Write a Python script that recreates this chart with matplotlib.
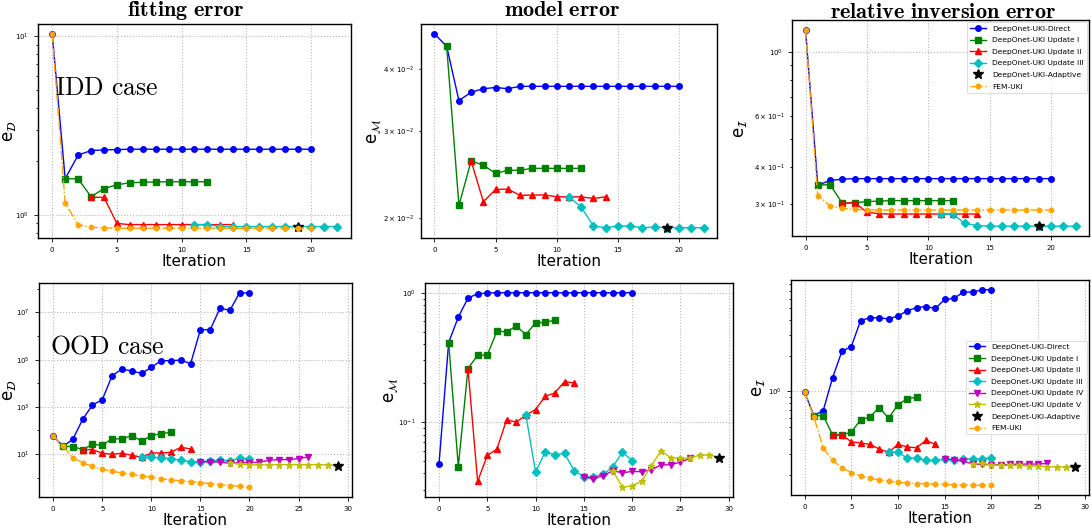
import numpy as np
import matplotlib
matplotlib.use("Agg")
import matplotlib.pyplot as plt
from matplotlib.ticker import FixedLocator, NullFormatter

# ---------------- data ----------------
LABELS = {
    "direct": "DeepOnet-UKI-Direct",
    "upd1": "DeepOnet-UKI Update I",
    "upd2": "DeepOnet-UKI Update II",
    "upd3": "DeepOnet-UKI Update III",
    "upd4": "DeepOnet-UKI Update IV",
    "upd5": "DeepOnet-UKI Update V",
    "adaptive": "DeepOnet-UKI-Adaptive",
    "fem": "FEM-UKI",
}

# first iteration index of each series
START = {"direct": 0, "upd1": 1, "upd2": 3, "fem": 0}
START_IDD = {"upd3": 11}
START_OOD = {"upd3": 9, "upd4": 15, "upd5": 18}

# IDD case: fitting error
idd_fit_direct = [10.35, 1.60, 2.17, 2.30, 2.32, 2.33] + [2.34] * 15
idd_fit_upd1 = [1.60, 1.60, 1.27, 1.41, 1.48, 1.52, 1.53, 1.535, 1.54, 1.54, 1.54, 1.54]
idd_fit_upd2 = [1.26, 1.26, 0.90] + [0.887] * 9
idd_fit_upd3 = [0.887, 0.887] + [0.865] * 10
idd_fit_adaptive = (19, 0.865)
idd_fit_fem = [10.35, 1.17, 0.887, 0.857, 0.85] + [0.846] * 16

# IDD case: model error
idd_mod_direct = [0.0471, 0.0444, 0.03455, 0.0359, 0.0365, 0.0367, 0.0365] + [0.0369] * 14
idd_mod_upd1 = [0.0444, 0.02124, 0.0261, 0.0256, 0.02463, 0.0250, 0.0250] + [0.02522] * 5
idd_mod_upd2 = [0.0261, 0.0216, 0.02287, 0.0229, 0.02225, 0.02228, 0.0223,
                0.0221, 0.0221, 0.0221, 0.02193, 0.0221]
idd_mod_upd3 = [0.0221, 0.02106, 0.0193, 0.01915, 0.0193, 0.0193, 0.01915,
                0.0192, 0.01915, 0.01915, 0.01915, 0.01915]
idd_mod_adaptive = (19, 0.0191)

# IDD case: relative inversion error
idd_inv_direct = [1.189, 0.3475, 0.3607, 0.3647] + [0.366] * 17
idd_inv_upd1 = [0.3475, 0.3494, 0.3010, 0.3025, 0.305, 0.3065] + [0.3075] * 6
idd_inv_upd2 = [0.301, 0.3025, 0.2809, 0.2772] + [0.2765] * 8
idd_inv_upd3 = [0.2765, 0.2765, 0.2566, 0.2525] + [0.2512] * 8
idd_inv_adaptive = (19, 0.2512)
idd_inv_fem = [1.189, 0.320, 0.2954, 0.2892, 0.2869] + [0.2854] * 16

# OOD case: fitting error
ood_fit_direct = [58, 21, 42, 294, 1190, 2000, 20800, 40000, 32900, 26200, 47000,
                  90100, 90100, 96000, 67300, 1.85e6, 1.85e6, 1.53e7, 1.22e7, 6.85e7, 6.63e7]
ood_fit_upd1 = [21, 20.5, 15.3, 25.7, 23.3, 44.7, 43.3, 59.9, 35.6, 59.9, 72.8, 82.8]
ood_fit_upd2 = [15.3, 15.3, 10.7, 9.7, 10.7, 8.8, 7.2, 11.0, 11.0, 11.8, 19.2, 16.3]
ood_fit_upd3 = [7.2, 7.2, 7.0, 6.35, 5.4, 4.73, 4.73, 5.2, 5.4, 5.2, 6.55, 6.35]
ood_fit_upd4 = [4.73, 4.58, 4.58, 4.03, 4.3, 4.3, 4.44, 5.4, 5.76, 5.76, 6.35, 7.46]
ood_fit_upd5 = [4.03, 3.77, 3.53, 3.42, 3.42, 3.53, 3.53, 3.53, 3.53, 3.53, 3.42, 3.2]
ood_fit_adaptive = (29, 3.2)
ood_fit_fem = [58, 21, 7.0, 4.16, 3.0, 2.24, 1.84, 1.57, 1.37, 1.17, 1.03, 0.90,
               0.79, 0.72, 0.67, 0.61, 0.55, 0.50, 0.455, 0.427, 0.387]

# OOD case: model error
ood_mod_direct = [0.0473, 0.412, 0.648, 0.909, 0.982, 0.994] + [1.0] * 15
ood_mod_upd1 = [0.412, 0.0453, 0.259, 0.329, 0.329, 0.504, 0.499, 0.552, 0.475,
                0.585, 0.589, 0.614]
ood_mod_upd2 = [0.259, 0.0347, 0.0552, 0.0618, 0.104, 0.100, 0.113, 0.125, 0.158,
                0.168, 0.2055, 0.2005]
ood_mod_upd3 = [0.113, 0.041, 0.0589, 0.0558, 0.0572, 0.042, 0.0377, 0.0379, 0.0393,
                0.0451, 0.0585, 0.0504]
ood_mod_upd4 = [0.0377, 0.0364, 0.0385, 0.042, 0.0405, 0.0415, 0.0413, 0.0427, 0.0467,
                0.0467, 0.049, 0.0523]
ood_mod_upd5 = [0.042, 0.0313, 0.0321, 0.0349, 0.0461, 0.060, 0.0529, 0.0523, 0.0530,
                0.0552, 0.0558, 0.0530]
ood_mod_adaptive = (29, 0.0530)

# OOD case: relative inversion error
ood_inv_direct = [0.987, 0.627, 0.691, 1.305, 2.18, 2.385, 3.95, 4.17, 4.17, 4.08, 4.33,
                  4.77, 5.09, 5.19, 5.0, 5.95, 6.07, 6.87, 6.87, 7.18, 7.18]
ood_inv_upd1 = [0.627, 0.627, 0.43, 0.43, 0.456, 0.576, 0.611, 0.733, 0.595, 0.777,
                0.867, 0.895]
ood_inv_upd2 = [0.43, 0.43, 0.378, 0.368, 0.359, 0.328, 0.307, 0.359, 0.3406, 0.3365,
                0.388, 0.359]
ood_inv_upd3 = [0.307, 0.307, 0.275, 0.275, 0.263, 0.263, 0.27, 0.266, 0.271, 0.271,
                0.271, 0.277]
ood_inv_upd4 = [0.27, 0.266, 0.258, 0.246, 0.243, 0.242, 0.242, 0.243, 0.245, 0.245,
                0.245, 0.248]
ood_inv_upd5 = [0.246, 0.248, 0.242, 0.2385, 0.2385, 0.2385, 0.2355, 0.2355, 0.2325,
                0.2325, 0.2309, 0.2295]
ood_inv_adaptive = (29, 0.2295)
ood_inv_fem = [0.987, 0.611, 0.334, 0.263, 0.228, 0.208, 0.195, 0.1864, 0.1804, 0.1758,
               0.1724, 0.170, 0.168, 0.167, 0.166, 0.165, 0.164, 0.164, 0.1626, 0.1626,
               0.1626]

# ---------------- styles ----------------
STYLE = {
    "direct": dict(color="b", marker="o", ms=4, ls="-", lw=1.0),
    "upd1": dict(color="g", marker="s", ms=4, ls="-", lw=1.0),
    "upd2": dict(color="r", marker="^", ms=4, ls="-", lw=1.0),
    "upd3": dict(color="c", marker="D", ms=4, ls="-", lw=1.0),
    "upd4": dict(color="m", marker="v", ms=4, ls="-", lw=1.0),
    "upd5": dict(color="y", marker="*", ms=4.5, ls="-", lw=1.0),
    "fem": dict(color="orange", marker="h", ms=3.5, ls="-.", lw=1.0),
}

W, H = 1091, 532
fig = plt.figure(figsize=(W / 100, H / 100), dpi=100)


def px_axes(left, top, right, bottom):
    return fig.add_axes([left / W, 1 - bottom / H, (right - left) / W, (bottom - top) / H])


def draw(ax, series, starts, adaptive, ylabel, label_x):
    for key in ["direct", "upd1", "upd2", "upd3", "upd4", "upd5"]:
        if key in series:
            vals = series[key]
            x = np.arange(starts[key], starts[key] + len(vals))
            ax.plot(x, vals, label=LABELS[key], **STYLE[key])
    ax.plot([adaptive[0]], [adaptive[1]], ls="none", marker="*", ms=7, color="k",
            label=LABELS["adaptive"])
    if "fem" in series:
        vals = series["fem"]
        x = np.arange(starts["fem"], starts["fem"] + len(vals))
        ax.plot(x, vals, label=LABELS["fem"], **STYLE["fem"])
    ax.set_yscale("log")
    ax.grid(True, which="major", ls=":", color="0.72", lw=0.8)
    ax.tick_params(which="both", labelsize=5, width=0.6)
    ax.tick_params(which="major", length=3)
    ax.tick_params(which="minor", length=1.8)
    for s in ax.spines.values():
        s.set_linewidth(1.0)
    ax.set_xlabel("Iteration", fontsize=11, labelpad=1)
    ax.set_ylabel(ylabel, fontsize=12, math_fontfamily="dejavusans")
    # label anchor given in figure pixels
    bb = ax.get_position()
    ax.yaxis.set_label_coords((label_x / W - bb.x0) / bb.width, 0.5)


ax1 = px_axes(38, 24, 351, 238)
ax2 = px_axes(421, 24, 717, 238)
ax3 = px_axes(792, 20, 1089, 236)
ax4 = px_axes(39, 283, 352, 497)
ax5 = px_axes(425, 283, 733, 497)
ax6 = px_axes(791, 280, 1089, 495)

sI = dict(START, **START_IDD)
sO = dict(START, **START_OOD)

draw(ax1, dict(direct=idd_fit_direct, upd1=idd_fit_upd1, upd2=idd_fit_upd2,
               upd3=idd_fit_upd3, fem=idd_fit_fem), sI, idd_fit_adaptive,
     r"$\mathrm{e}_{\mathcal{D}}$", 18)
draw(ax2, dict(direct=idd_mod_direct, upd1=idd_mod_upd1, upd2=idd_mod_upd2,
               upd3=idd_mod_upd3), sI, idd_mod_adaptive,
     r"$\mathrm{e}_{\mathcal{M}}$", 384)
draw(ax3, dict(direct=idd_inv_direct, upd1=idd_inv_upd1, upd2=idd_inv_upd2,
               upd3=idd_inv_upd3, fem=idd_inv_fem), sI, idd_inv_adaptive,
     r"$\mathrm{e}_{\mathcal{I}}$", 749)
draw(ax4, dict(direct=ood_fit_direct, upd1=ood_fit_upd1, upd2=ood_fit_upd2,
               upd3=ood_fit_upd3, upd4=ood_fit_upd4, upd5=ood_fit_upd5,
               fem=ood_fit_fem), sO, ood_fit_adaptive,
     r"$\mathrm{e}_{\mathcal{D}}$", 18)
draw(ax5, dict(direct=ood_mod_direct, upd1=ood_mod_upd1, upd2=ood_mod_upd2,
               upd3=ood_mod_upd3, upd4=ood_mod_upd4, upd5=ood_mod_upd5),
     sO, ood_mod_adaptive, r"$\mathrm{e}_{\mathcal{M}}$", 401)
draw(ax6, dict(direct=ood_inv_direct, upd1=ood_inv_upd1, upd2=ood_inv_upd2,
               upd3=ood_inv_upd3, upd4=ood_inv_upd4, upd5=ood_inv_upd5,
               fem=ood_inv_fem), sO, ood_inv_adaptive,
     r"$\mathrm{e}_{\mathcal{I}}$", 767)

# every other decade on the wide-range axis
ax4.yaxis.set_major_locator(FixedLocator([1e1, 1e3, 1e5, 1e7]))
ax4.yaxis.set_minor_locator(FixedLocator([1e0, 1e2, 1e4, 1e6, 1e8]))
ax4.yaxis.set_minor_formatter(NullFormatter())

for ax in (ax3, ax6):
    leg = ax.legend(loc="upper right" if ax is ax3 else "center right", fontsize=5.4,
                    borderaxespad=0.3, handlelength=2.2, labelspacing=0.72)
    leg.get_frame().set_linewidth(0.6)

# column titles and row annotations
for cx, by, txt in [(186, 16.5, r"$\mathbf{fitting\ error}$"),
                    (562, 16.5, r"$\mathbf{model\ error}$"),
                    (943, 17.5, r"$\mathbf{relative\ inversion\ error}$")]:
    fig.text(cx / W, 1 - by / H, txt, ha="center", va="baseline", fontsize=16,
             math_fontfamily="cm")

fig.text(55 / W, 1 - 95 / H, r"$\mathrm{IDD\ case}$", ha="left", va="baseline",
         fontsize=18.5, math_fontfamily="cm")
fig.text(50 / W, 1 - 353 / H, r"$\mathrm{OOD\ case}$", ha="left", va="baseline",
         fontsize=18.5, math_fontfamily="cm")

fig.savefig("out.png", dpi=100)
